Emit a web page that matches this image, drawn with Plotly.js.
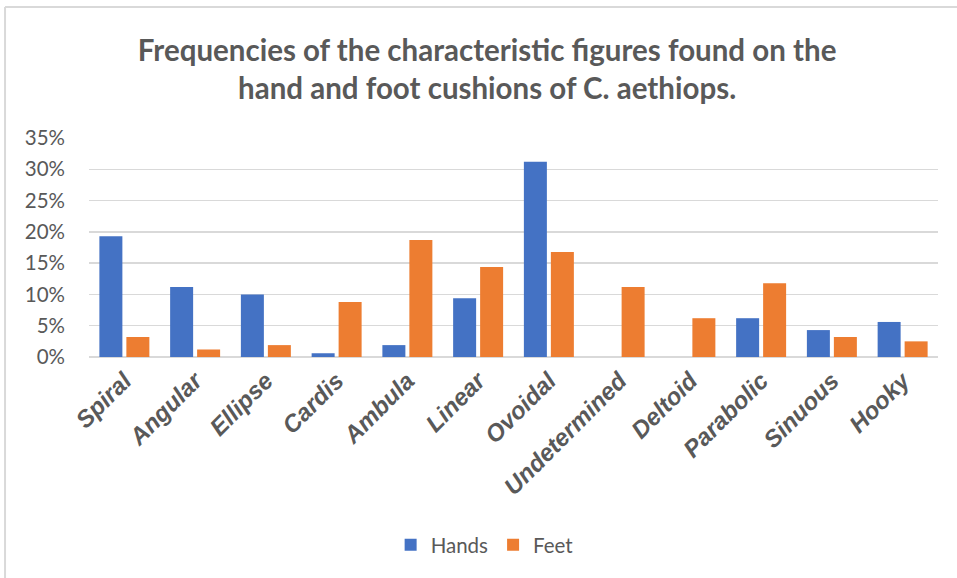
<!DOCTYPE html>
<html>
<head>
<meta charset="utf-8">
<script src="https://cdn.plot.ly/plotly-3.0.1.min.js"></script>
<style>html,body{margin:0;padding:0;background:#fff;}#chart{width:957px;height:578px;}</style>
</head>
<body>
<div id="chart"></div>
<script>
const categories = ["Spiral","Angular","Ellipse","Cardis","Ambula","Linear","Ovoidal","Undetermined","Deltoid","Parabolic","Sinuous","Hooky"];
const hands = [0.193, 0.112, 0.100, 0.006, 0.019, 0.094, 0.312, 0.000, 0.000, 0.062, 0.043, 0.056];
const feet  = [0.032, 0.012, 0.019, 0.088, 0.187, 0.144, 0.168, 0.112, 0.062, 0.118, 0.032, 0.025];
const yTicks = [0, 0.05, 0.10, 0.15, 0.20, 0.25, 0.30, 0.35];

const grey = '#595959';
const traces = [
  {type:'bar', name:'Hands', x:categories, y:hands, marker:{color:'#4472C4'}, hoverinfo:'x+y'},
  {type:'bar', name:'Feet', x:categories, y:feet, marker:{color:'#ED7D31'}, hoverinfo:'x+y'}
];
const layout = {
  width:957, height:578,
  margin:{l:89, r:19, t:138, b:221, pad:0},
  paper_bgcolor:'#fff', plot_bgcolor:'#fff',
  barmode:'group', bargap:0.237, bargroupgap:0.148,
  title:{text:'Frequencies of the characteristic figures found on the<br>hand and foot cushions of C. aethiops.',
    font:{family:'Lato, Open Sans, sans-serif', size:29.5, color:grey, weight:'bold'},
    xref:'container', x:0.509, xanchor:'center', yref:'container', y:0.895, yanchor:'top'},
  xaxis:{tickangle:-45, tickfont:{family:'Liberation Sans, Arial, sans-serif', size:24, color:grey, weight:'bold', style:'italic'},
    showgrid:false, showline:false, zeroline:false, ticks:'', ticklabelstandoff:4, fixedrange:true},
  yaxis:{range:[0,0.35], tickvals:yTicks, tickformat:'.0%', tickfont:{family:'Lato, Open Sans, sans-serif', size:20.5, color:grey},
    showgrid:true, gridcolor:'#D9D9D9', gridwidth:1.5, zeroline:true, zerolinecolor:'#D9D9D9', zerolinewidth:2,
    showline:false, ticks:'', ticklabelstandoff:23, fixedrange:true},
  legend:{orientation:'h', x:0.466, xanchor:'center', y:-0.858, yanchor:'middle',
    font:{family:'Lato, Open Sans, sans-serif', size:20.5, color:grey}, itemwidth:30},
  shapes:[
    {type:'line', xref:'paper', yref:'paper', x0:-0.0989, x1:-0.0989, y0:1.598, y1:-1.02, line:{color:'#D9D9D9', width:2}},
    {type:'line', xref:'paper', yref:'paper', x0:-0.0989, x1:1.03, y0:1.598, y1:1.598, line:{color:'#D9D9D9', width:2}}
  ],
  showlegend:true
};
Plotly.newPlot('chart', traces, layout, {displayModeBar:false, staticPlot:true});
</script>
</body>
</html>
